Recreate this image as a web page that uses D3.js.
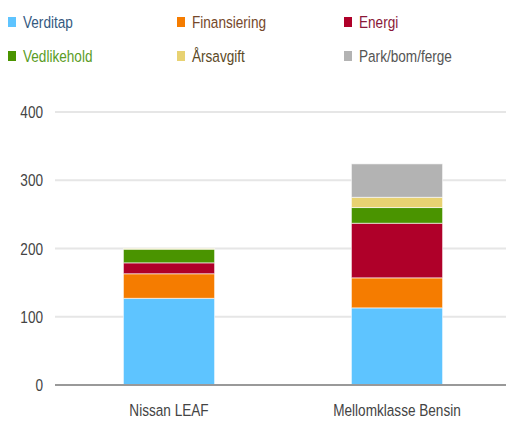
<!DOCTYPE html>
<html>
<head>
<meta charset="utf-8">
<script src="https://cdn.jsdelivr.net/npm/d3@7"></script>
<style>
  body { margin: 0; background: #fff; }
  text { font-family: "Liberation Sans", Arial, sans-serif; }
</style>
</head>
<body>
<div id="chart"></div>
<script>
// data
var categories = ["Nissan LEAF", "Mellomklasse Bensin"];
var seriesNames = ["Verditap", "Finansiering", "Energi", "Vedlikehold", "Årsavgift", "Park/bom/ferge"];
var leafValues = [127, 36, 16, 20, 1, 0];
var bensinValues = [113, 44, 80, 23, 15, 49];
var yTicks = [0, 100, 200, 300, 400];

var colors = ["#5ec4ff", "#f57c00", "#af0029", "#4a9400", "#e8d272", "#b3b3b3"];
var textColors = ["#34597f", "#76482a", "#8a1838", "#5a9c26", "#5c4a26", "#555555"];

var w = 506, h = 421;
var squish = 0.8; // text in the picture is narrow and tall

var svg = d3.select("#chart").append("svg")
    .attr("width", w)
    .attr("height", h);

// position a text with a horizontal squeeze
function place(px, py) {
    return "translate(" + px + "," + py + ") scale(" + squish + ",1)";
}

// build table for the stack
var table = categories.map(function(c, i) {
    var row = { cat: c };
    var vals = i === 0 ? leafValues : bensinValues;
    seriesNames.forEach(function(s, j) { row[s] = vals[j]; });
    return row;
});

var stack = d3.stack().keys(seriesNames)(table);

var x = d3.scaleBand()
    .domain(categories)
    .range([55, 511])
    .paddingInner(0.6)
    .paddingOuter(0.3);

var y = d3.scaleLinear()
    .domain([0, 400])
    .range([385, 112]);

// gridlines
svg.append("g")
    .selectAll("line")
    .data(yTicks.filter(function(d) { return d > 0; }))
    .enter().append("line")
    .attr("x1", 55).attr("x2", w)
    .attr("y1", function(d) { return y(d); })
    .attr("y2", function(d) { return y(d); })
    .attr("stroke", "#e6e6e6")
    .attr("stroke-width", 2);

// y tick labels
svg.append("g")
    .selectAll("text")
    .data(yTicks)
    .enter().append("text")
    .attr("transform", function(d) { return place(43, y(d) + 6); })
    .attr("text-anchor", "end")
    .attr("font-size", 17)
    .attr("fill", "#444")
    .text(function(d) { return d; });

// stacked bars
svg.append("g")
    .selectAll("g")
    .data(stack)
    .enter().append("g")
    .attr("fill", function(d, i) { return colors[i]; })
    .selectAll("rect")
    .data(function(d) { return d; })
    .enter().append("rect")
    .filter(function(d) { return d[1] - d[0] > 0; })
    .attr("x", function(d) { return x(d.data.cat); })
    .attr("width", x.bandwidth())
    .attr("y", function(d) { return y(d[1]); })
    .attr("height", function(d) { return y(d[0]) - y(d[1]); })
    .attr("stroke", "#fff")
    .attr("stroke-opacity", 0.6)
    .attr("stroke-width", 1);

// baseline
svg.append("line")
    .attr("x1", 55).attr("x2", w)
    .attr("y1", y(0)).attr("y2", y(0))
    .attr("stroke", "#999")
    .attr("stroke-width", 2);

// x axis labels
svg.append("g")
    .selectAll("text")
    .data(categories)
    .enter().append("text")
    .attr("transform", function(d) { return place(x(d) + x.bandwidth() / 2, 416); })
    .attr("text-anchor", "middle")
    .attr("font-size", 17)
    .attr("fill", "#444")
    .text(function(d) { return d; });

// legend, 3 columns x 2 rows
var legend = svg.append("g")
    .selectAll("g")
    .data(seriesNames)
    .enter().append("g")
    .attr("transform", function(d, i) {
        return "translate(" + [8, 177, 344][i % 3] + "," + (i < 3 ? 17 : 51) + ")";
    });

legend.append("rect")
    .attr("width", 8).attr("height", 10)
    .attr("fill", function(d, i) { return colors[i]; });

legend.append("text")
    .attr("transform", place(15, 11))
    .attr("font-size", 17)
    .attr("fill", function(d, i) { return textColors[i]; })
    .text(function(d) { return d; });
</script>
</body>
</html>
